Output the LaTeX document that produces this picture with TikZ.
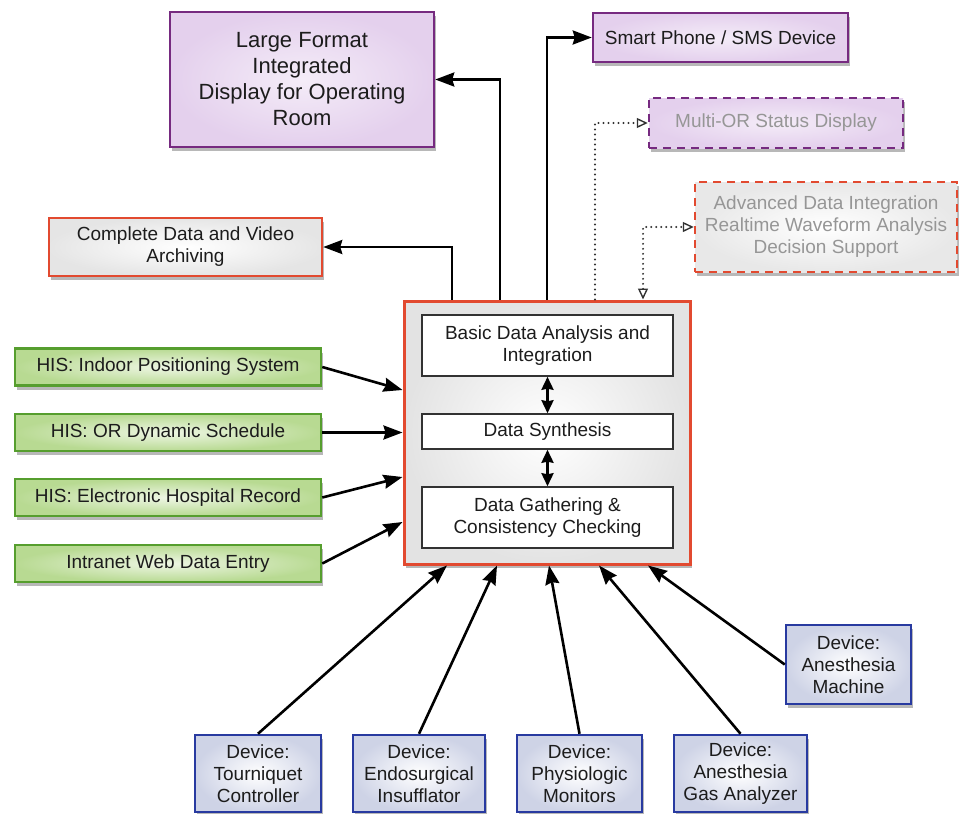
\documentclass[tikz,border=0pt]{standalone}
\usepackage{fontspec}
\setmainfont{Liberation Sans}
\usetikzlibrary{arrows.meta,shadows,calc}
\definecolor{purpB}{RGB}{118,42,128}
\definecolor{purpF}{RGB}{228,208,237}
\definecolor{redB}{RGB}{226,74,48}
\definecolor{greenB}{RGB}{86,158,46}
\definecolor{greenF}{RGB}{184,218,146}
\definecolor{greenL}{RGB}{238,246,228}
\definecolor{blueB}{RGB}{40,58,160}
\definecolor{blueF}{RGB}{206,211,230}
\definecolor{txt}{RGB}{28,28,28}
\definecolor{dimtxt}{RGB}{150,150,150}
\definecolor{innerB}{RGB}{50,50,50}
\definecolor{dotc}{RGB}{50,50,50}
\tikzset{otri/.tip={Triangle[open,length=11pt,width=10pt,line width=1.4pt]}}
\begin{document}
\begin{tikzpicture}[x=1pt,y=-1pt,
  font=\fontsize{19}{22}\selectfont,
  shad/.style={drop shadow={shadow xshift=2pt,shadow yshift=-4pt,opacity=0.28,fill=black}},
  box/.style={draw, line width=2.5pt, align=center, inner sep=0pt, text=txt, shad},
  pbox/.style={box, draw=purpB, inner color=white!60!purpF, outer color=purpF},
  rbox/.style={box, draw=redB, inner color=white, outer color=black!10},
  gbox/.style={box, draw=greenB, inner color=greenL, outer color=greenF},
  bbox/.style={box, draw=blueB, inner color=white, outer color=blueF},
  pdash/.style={box, draw=purpB, dash pattern=on 8pt off 6pt, inner color=white!60!purpF, outer color=purpF, text=dimtxt},
  rdash/.style={box, draw=redB, dash pattern=on 8pt off 6pt, inner color=white, outer color=black!9, text=dimtxt},
  ibox/.style={draw=innerB, line width=1.5pt, fill=white, align=center, inner sep=0pt, minimum width=251pt, text=txt},
  arr/.style={line width=2.6pt, -{Stealth[length=19pt,width=14pt,inset=2pt]}},
  darr/.style={line width=2.4pt, {Stealth[length=13pt,width=12pt,inset=1pt]}-{Stealth[length=13pt,width=12pt,inset=1pt]}},
  dotl/.style={draw=dotc, line width=2.2pt, line cap=round, dash pattern=on 0pt off 5pt}
]
\useasboundingbox (0,0) rectangle (959,814);

% top outputs
\node[pbox, minimum width=264pt, minimum height=135pt, font=\fontsize{22}{26}\selectfont] (large) at (302,79.5)
  {Large Format\\Integrated\\Display for Operating\\Room};
\node[pbox, minimum width=255pt, minimum height=49pt] (smart) at (720.5,37.5) {Smart Phone / SMS Device};
\node[pdash, minimum width=254pt, minimum height=50pt] (multi) at (776,123) {Multi-OR Status Display};
\node[rdash, minimum width=262pt, minimum height=90pt] (adv) at (826,227)
  {Advanced Data Integration\\Realtime Waveform Analysis\\Decision Support};
\node[rbox, minimum width=273pt, minimum height=58pt] (arch) at (185.5,247) {Complete Data and Video\\Archiving};

% central
\node[box, draw=redB, line width=3pt, inner color=white, outer color=black!11, minimum width=286pt, minimum height=263pt] (central) at (547,432.5) {};
\node[ibox, minimum height=61pt] (in1) at (547.5,345.5) {Basic Data Analysis and\\Integration};
\node[ibox, minimum height=35pt] (in2) at (547.5,431.5) {Data Synthesis};
\node[ibox, minimum height=61pt] (in3) at (547.5,517.5) {Data Gathering \&\\Consistency Checking};

% HIS inputs
\node[gbox, minimum width=306pt, minimum height=37pt] (g1) at (168,367) {HIS: Indoor Positioning System};
\node[gbox, minimum width=306pt, minimum height=37pt] (g2) at (168,432.5) {HIS: OR Dynamic Schedule};
\node[gbox, minimum width=306pt, minimum height=37pt] (g3) at (168,497.5) {HIS: Electronic Hospital Record};
\node[gbox, minimum width=306pt, minimum height=37pt] (g4) at (168,563.5) {Intranet Web Data Entry};

% devices
\node[bbox, minimum width=126pt, minimum height=77pt] (b1) at (258,773.5) {Device:\\Tourniquet\\Controller};
\node[bbox, minimum width=132pt, minimum height=77pt] (b2) at (419,773.5) {Device:\\Endosurgical\\Insufflator};
\node[bbox, minimum width=125pt, minimum height=77pt] (b3) at (579.5,773.5) {Device:\\Physiologic\\Monitors};
\node[bbox, minimum width=133pt, minimum height=77pt] (b4) at (740.5,773.5) {Device:\\Anesthesia\\Gas Analyzer};
\node[bbox, minimum width=125pt, minimum height=79pt] (b5) at (848.5,664.5) {Device:\\Anesthesia\\Machine};

% inner double arrows
\draw[darr] (in1.south) -- (in2.north);
\draw[darr] (in2.south) -- (in3.north);

% outputs
\draw[arr] ([xshift=-95pt]central.north) |- (arch.east);
\draw[arr] ([xshift=-47pt]central.north) |- (large.east);
\draw[arr] (central.north) |- (smart.west);
\draw[dotl, -otri] ([xshift=48pt]central.north) |- (multi.west);
\draw[dotl, otri-otri] ([xshift=96pt]central.north) |- (adv.west);

% HIS arrows
\draw[arr] (g1.east) -- ([yshift=42.5pt]central.west);
\draw[arr] (g2.east) -- (central.west);
\draw[arr] (g3.east) -- ([yshift=-44.5pt]central.west);
\draw[arr] (g4.east) -- ([yshift=-89.5pt]central.west);

% device arrows
\draw[arr] (b1.north) -- ([xshift=-100pt]central.south);
\draw[arr] (b2.north) -- ([xshift=-50pt]central.south);
\draw[arr] (b3.north) -- ([xshift=2pt]central.south);
\draw[arr] (b4.north) -- ([xshift=52pt]central.south);
\draw[arr] (b5.west) -- ([xshift=101pt]central.south);
\end{tikzpicture}
\end{document}
